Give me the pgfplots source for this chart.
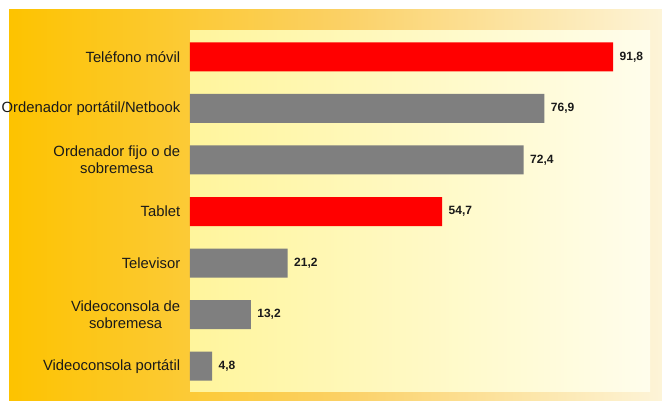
\documentclass[border=0pt]{standalone}
\usepackage{fontspec}
\setmainfont{Liberation Sans}
\usepackage{pgfplots}
\pgfplotsset{compat=1.18}
\usepackage{pgfplotstable}

\definecolor{outerL}{HTML}{FDC300}
\definecolor{outerM}{HTML}{FBD063}
\definecolor{outerR}{HTML}{FDF4D8}
\definecolor{innerL}{HTML}{FFF59C}
\definecolor{innerR}{HTML}{FFFDEC}
\definecolor{barred}{HTML}{FF0000}
\definecolor{bargrey}{HTML}{7F7F7F}
\definecolor{txt}{HTML}{1A1A1A}

% share of people by device (%), index 0 = top row
\pgfplotstableread{
y  v
0  91.8
3  54.7
}\redbars
\pgfplotstableread{
y  v
1  76.9
2  72.4
4  21.2
5  13.2
6  4.8
}\greybars

\begin{document}
\begin{tikzpicture}[x=1pt,y=1pt]
\path[use as bounding box, fill=white] (0,0) rectangle (662,401);
% background panels
\shade[left color=outerL, right color=outerR, middle color=outerM] (9,0) rectangle (662,391);
\shade[left color=innerL, right color=innerR] (190,9) rectangle (650,370);

\begin{axis}[
    at={(190pt,9pt)}, anchor=south west,
    width=460pt, height=361pt, scale only axis,
    xmin=0, xmax=99.8,
    ymin=-0.5, ymax=6.5,
    y dir=reverse,
    xbar, bar width=29pt, bar shift=0pt,
    axis line style={draw=none},
    tick style={draw=none},
    xtick=\empty,
    ytick={0,...,6},
    yticklabels={Teléfono móvil, Ordenador portátil/Netbook, {Ordenador fijo o de\\sobremesa}, Tablet, Televisor, {Videoconsola de\\sobremesa}, Videoconsola portátil},
    yticklabel style={font=\fontsize{14.8}{17.5}\selectfont, align=center, text=txt, xshift=-2pt},
    nodes near coords,
    nodes near coords style={anchor=west, xshift=3pt, font=\fontsize{12}{13}\selectfont\bfseries, text=txt,
        /pgf/number format/.cd, fixed, fixed zerofill, precision=1, use comma, assume math mode=true},
    clip=false,
]
\addplot[fill=barred, draw=none] table[x=v, y=y] {\redbars};
\addplot[fill=bargrey, draw=none] table[x=v, y=y] {\greybars};
\end{axis}
\end{tikzpicture}
\end{document}
